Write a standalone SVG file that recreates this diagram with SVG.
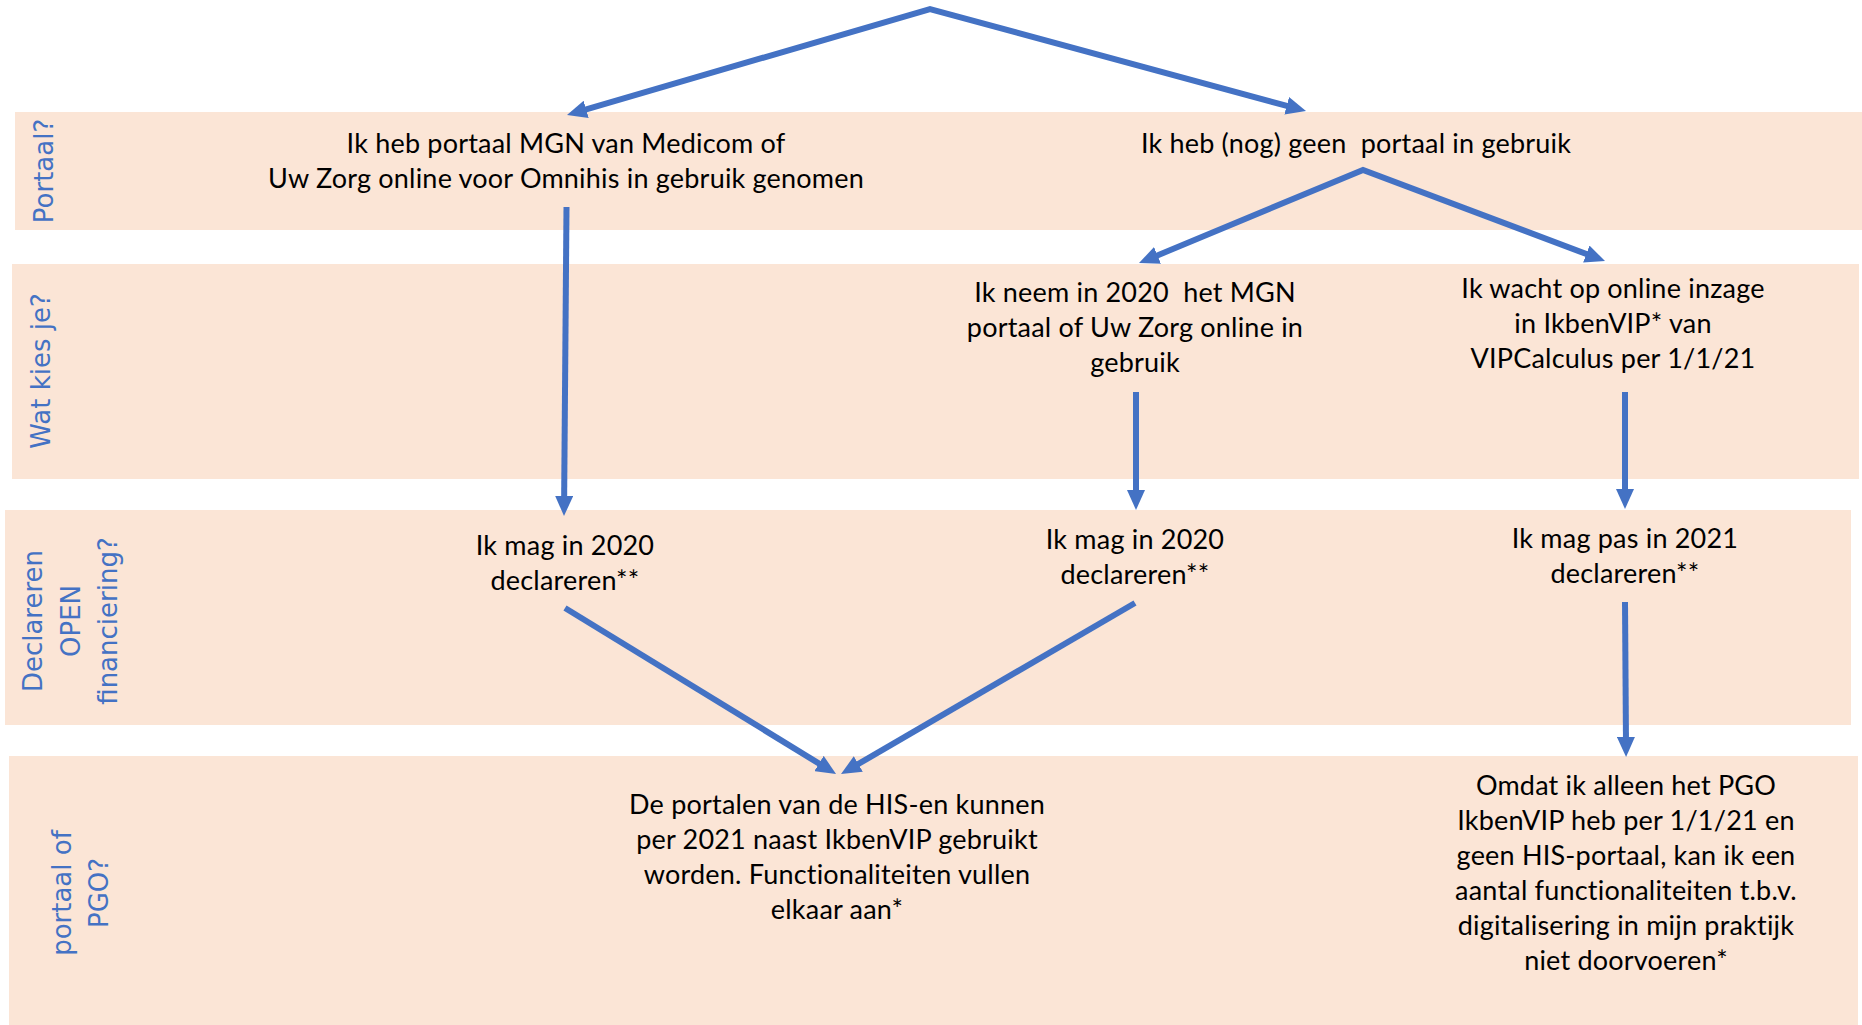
<svg xmlns="http://www.w3.org/2000/svg" width="1862" height="1025" viewBox="0 0 1862 1025">
<style>
.band{fill:#FBE5D6}
.t{font-family:Lato,"Open Sans","Liberation Sans",sans-serif;font-size:27px;letter-spacing:0.2px;fill:#000;text-anchor:middle}
.lbl{font-family:"DejaVu Sans","Liberation Sans",sans-serif;font-size:26px;fill:#4472C4;text-anchor:middle}
.c{fill:none;stroke:#4472C4;stroke-width:6;stroke-linejoin:miter;stroke-miterlimit:20}
</style>
<defs>
<marker id="ah" markerUnits="userSpaceOnUse" markerWidth="20" markerHeight="18" viewBox="0 0 20 18" refX="8" refY="9" orient="auto-start-reverse">
<path d="M0,0 L20,9 L0,18 Z" fill="#4472C4"/>
</marker>
</defs>
<rect width="1862" height="1025" fill="#fff"/>
<g id="lanes">
<rect class="band" x="15" y="112" width="1847" height="118"/>
<rect class="band" x="12" y="264" width="1847" height="215"/>
<rect class="band" x="5" y="510" width="1846" height="215"/>
<rect class="band" x="9" y="756" width="1849" height="269"/>
<text class="lbl" transform="translate(53,171) rotate(-90)">Portaal?</text>
<text class="lbl" transform="translate(50,371) rotate(-90)">Wat kies je?</text>
<text class="lbl" transform="translate(42,621) rotate(-90)">Declareren</text>
<text class="lbl" transform="translate(80,621) rotate(-90)">OPEN</text>
<text class="lbl" transform="translate(117,621) rotate(-90)">financiering?</text>
<text class="lbl" transform="translate(71,893) rotate(-90)">portaal of</text>
<text class="lbl" transform="translate(108,893) rotate(-90)">PGO?</text>
</g>
<g id="connectors">
<path class="c" d="M578.5,111.6 L930,9 L1294.4,107.9" marker-start="url(#ah)" marker-end="url(#ah)"/>
<path class="c" d="M1150.1,258.4 L1363,170 L1593.8,256.8" marker-start="url(#ah)" marker-end="url(#ah)"/>
<path class="c" d="M566.5,207 L564.1,504" marker-end="url(#ah)"/>
<path class="c" d="M1136,392 L1136,498" marker-end="url(#ah)"/>
<path class="c" d="M1625,392 L1625,497" marker-end="url(#ah)"/>
<path class="c" d="M565,608 L825.8,767.7" marker-end="url(#ah)"/>
<path class="c" d="M1135,603 L851.4,768" marker-end="url(#ah)"/>
<path class="c" d="M1625,602 L1626,745" marker-end="url(#ah)"/>
</g>
<g id="node-portal-yes">
<text class="t" x="566" y="153">Ik heb portaal MGN van Medicom of</text>
<text class="t" x="566" y="188">Uw Zorg online voor Omnihis in gebruik genomen</text>
</g>
<g id="node-portal-no">
<text class="t" x="1356" y="153" xml:space="preserve">Ik heb (nog) geen  portaal in gebruik</text>
</g>
<g id="node-choose-portal">
<text class="t" x="1135" y="301.5" xml:space="preserve">Ik neem in 2020  het MGN</text>
<text class="t" x="1135" y="336.5">portaal of Uw Zorg online in</text>
<text class="t" x="1135" y="371.5">gebruik</text>
</g>
<g id="node-wait-vip">
<text class="t" x="1613" y="298">Ik wacht op online inzage</text>
<text class="t" x="1613" y="333">in IkbenVIP* van</text>
<text class="t" x="1613" y="368">VIPCalculus per 1/1/21</text>
</g>
<g id="node-declare-a">
<text class="t" x="565" y="555">Ik mag in 2020</text>
<text class="t" x="565" y="590">declareren**</text>
</g>
<g id="node-declare-b">
<text class="t" x="1135" y="549">Ik mag in 2020</text>
<text class="t" x="1135" y="584">declareren**</text>
</g>
<g id="node-declare-c">
<text class="t" x="1625" y="548">Ik mag pas in 2021</text>
<text class="t" x="1625" y="583">declareren**</text>
</g>
<g id="node-both">
<text class="t" x="837" y="814">De portalen van de HIS-en kunnen</text>
<text class="t" x="837" y="849">per 2021 naast IkbenVIP gebruikt</text>
<text class="t" x="837" y="884">worden. Functionaliteiten vullen</text>
<text class="t" x="837" y="919">elkaar aan*</text>
</g>
<g id="node-pgo-only">
<text class="t" x="1626" y="795">Omdat ik alleen het PGO</text>
<text class="t" x="1626" y="830">IkbenVIP heb per 1/1/21 en</text>
<text class="t" x="1626" y="865">geen HIS-portaal, kan ik een</text>
<text class="t" x="1626" y="900">aantal functionaliteiten t.b.v.</text>
<text class="t" x="1626" y="935">digitalisering in mijn praktijk</text>
<text class="t" x="1626" y="970">niet doorvoeren*</text>
</g>
</svg>
